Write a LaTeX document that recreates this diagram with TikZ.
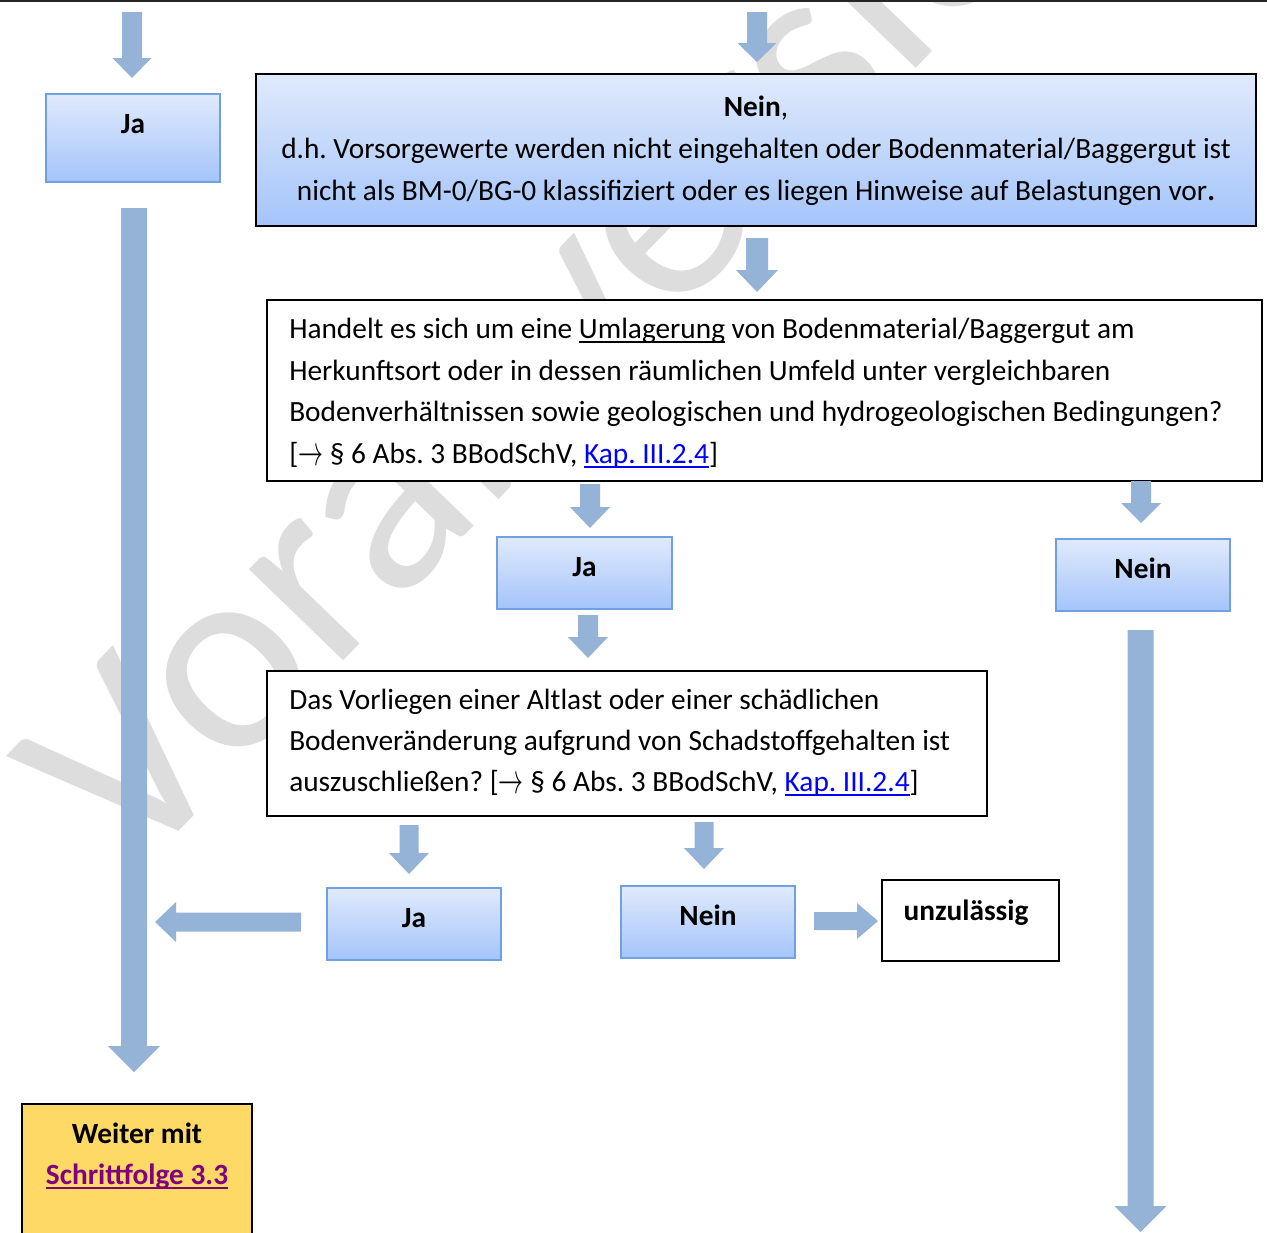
\RequirePackage{fix-cm}
\documentclass[tikz,border=0pt]{standalone}
\usepackage{fontspec}
\setmainfont{Carlito}
\usetikzlibrary{fit}
\definecolor{arrowblue}{RGB}{149,179,215}
\definecolor{gradtop}{RGB}{224,234,252}
\definecolor{gradbot}{RGB}{164,196,250}
\definecolor{boxedge}{RGB}{112,160,224}
\definecolor{wmgray}{RGB}{221,221,221}
\definecolor{linkblue}{RGB}{0,0,255}
\definecolor{linkpurple}{RGB}{128,0,128}
\definecolor{goldfill}{RGB}{255,217,102}
\newcommand\myul[1]{\setbox0=\hbox{#1}\rlap{\rule[-0.16em]{\wd0}{0.065em}}\box0\relax}
\newcommand\refarr{\raisebox{-2.2pt}{\scalebox{0.85}[1.45]{$\rightarrow$}}}
% block arrows: #1 centre, #2 start, #3 tip, #4 shaft half width, #5 head half width, #6 head length
\newcommand\blkdown[6]{\fill[arrowblue] ({#1-#4},#2) -- ({#1+#4},#2) -- ({#1+#4},{#3-#6}) -- ({#1+#5},{#3-#6}) -- (#1,#3) -- ({#1-#5},{#3-#6}) -- ({#1-#4},{#3-#6}) -- cycle;}
\newcommand\blkleft[6]{\fill[arrowblue] (#2,{#1-#4}) -- (#2,{#1+#4}) -- ({#3+#6},{#1+#4}) -- ({#3+#6},{#1+#5}) -- (#3,#1) -- ({#3+#6},{#1-#5}) -- ({#3+#6},{#1-#4}) -- cycle;}
\newcommand\blkright[6]{\fill[arrowblue] (#2,{#1-#4}) -- (#2,{#1+#4}) -- ({#3-#6},{#1+#4}) -- ({#3-#6},{#1+#5}) -- (#3,#1) -- ({#3-#6},{#1-#5}) -- ({#3-#6},{#1-#4}) -- cycle;}
\tikzset{
  labelbox/.style={rectangle, draw=boxedge, line width=1.1pt, top color=gradtop, bottom color=gradbot, inner sep=0pt},
  gradbox/.style={rectangle, draw=black, line width=1.9pt, top color=gradtop, bottom color=gradbot, inner sep=0pt},
  whitebox/.style={rectangle, draw=black, line width=1.9pt, fill=white, inner sep=0pt},
  goldbox/.style={rectangle, draw=black, line width=1.9pt, fill=goldfill, inner sep=0pt},
  txt/.style={inner sep=0pt, font=\fontsize{22}{31}\selectfont\frenchspacing},
  btxt/.style={inner sep=0pt, font=\fontsize{22}{31}\selectfont\bfseries\frenchspacing, anchor=base},
}
\begin{document}
\frenchspacing
\begin{tikzpicture}[x=0.75pt,y=-0.75pt]
\useasboundingbox (0,0) rectangle (1267,1232);
\clip (0,0) rectangle (1267,1232);
\fill[white] (0,0) rectangle (1267,1232);
% watermark
\node[rotate=46, anchor=base west, inner sep=0pt, text=wmgray, font=\fontsize{206}{206}\selectfont] (wm) at (132,880) {V\kern-0.05em orabversion};
% top rule
\draw[line width=1.5pt, black!85] (0,1) -- (1267,1);
% boxes
\node[labelbox, fit={(46,94) (220,182)}] (ja1) {};
\node[gradbox, fit={(256,74) (1256,226)}] (nein1) {};
\node[whitebox, fit={(267,300) (1262,481)}] (q1) {};
\node[labelbox, fit={(497,537) (672,609)}] (ja2) {};
\node[labelbox, fit={(1056,539) (1230,611)}] (nein2) {};
\node[whitebox, fit={(267,671) (987,816)}] (q2) {};
\node[labelbox, fit={(327,888) (501,960)}] (ja3) {};
\node[labelbox, fit={(621,886) (795,958)}] (nein3) {};
\node[whitebox, fit={(882,880) (1059,961)}] (unz) {};
\node[goldbox, fit={(22,1104) (252,1250)}] (weiter) {};
% arrows
\blkdown{132}{12}{78}{10}{19.5}{20}
\blkdown{757}{12}{62}{10}{19.5}{19}
\blkdown{757}{238}{292}{11}{21}{22}
\blkdown{590}{484}{528}{10}{20}{21}
\blkdown{1141}{481}{523}{10}{20}{20}
\blkdown{588}{615}{658}{10}{20}{21}
\blkdown{409}{825}{874}{9.5}{20}{21}
\blkdown{704}{822}{869}{9.5}{20}{21}
\blkdown{134}{208}{1072}{13}{26}{26}
\blkdown{1140.5}{630}{1232}{13}{26}{26}
\blkleft{922}{301}{155}{9.5}{20}{21}
\blkright{921}{814}{878}{9}{18}{21}
% texts
\node[btxt] (ja1t) at (133,133) {Ja};
\node[txt, anchor=base] (n1a) at (756,116) {\textbf{Nein},};
\node[txt, anchor=base] (n1b) at (756,158) {d.h. Vorsorgewerte werden nicht eingehalten oder Bodenmaterial/Baggergut ist};
\node[txt, anchor=base] (n1c) at (756,200) {nicht als BM-0/BG-0 klassifiziert oder es liegen Hinweise auf Belastungen vor\textbf{.}};
\node[txt, anchor=base west] (q1a) at (289,338) {Handelt es sich um eine \myul{Umlagerung} von Bodenmaterial/Baggergut am};
\node[txt, anchor=base west] (q1b) at (289,380) {Herkunftsort oder in dessen räumlichen Umfeld unter vergleichbaren};
\node[txt, anchor=base west] (q1c) at (289,421) {Bodenverhältnissen sowie geologischen und hydrogeologischen Bedingungen?};
\node[txt, anchor=base west] (q1d) at (289,463) {[\refarr\ § 6 Abs. 3 BBodSchV, \textcolor{linkblue}{\myul{Kap. III.2.4}}]};
\node[btxt] (ja2t) at (584.5,576) {Ja};
\node[btxt] (nein2t) at (1143,578) {Nein};
\node[txt, anchor=base west] (q2a) at (289,709) {Das Vorliegen einer Altlast oder einer schädlichen};
\node[txt, anchor=base west] (q2b) at (289,750) {Bodenveränderung aufgrund von Schadstoffgehalten ist};
\node[txt, anchor=base west] (q2c) at (289,791) {auszuschließen? [\refarr\ § 6 Abs. 3 BBodSchV, \textcolor{linkblue}{\myul{Kap. III.2.4}}]};
\node[btxt] (ja3t) at (414,927) {Ja};
\node[btxt] (nein3t) at (708,925) {Nein};
\node[btxt] (unzt) at (966,920) {unzulässig};
\node[btxt] (weit1) at (137,1143) {Weiter mit};
\node[btxt, text=linkpurple] (weit2) at (137,1184) {\myul{Schrittfolge 3.3}};
\end{tikzpicture}
\end{document}
